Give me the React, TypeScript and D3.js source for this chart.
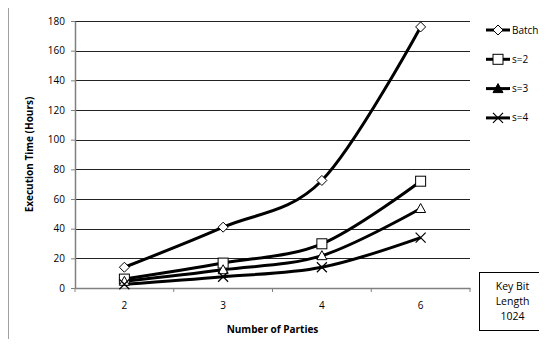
import { useEffect, useRef } from 'react';
import * as d3 from 'd3';

const parties = ['2', '3', '4', '6'];
const batch = [14, 41, 72.5, 176];
const s2 = [6, 16.8, 29.8, 72];
const s3 = [4.5, 12.3, 21.8, 53.6];
const s4 = [2.5, 7.6, 14, 34];
const yTicks = [0, 20, 40, 60, 80, 100, 120, 140, 160, 180];

const series = [
  { name: 'Batch', values: batch, marker: 'diamond' },
  { name: 's=2', values: s2, marker: 'square' },
  { name: 's=3', values: s3, marker: 'triangle' },
  { name: 's=4', values: s4, marker: 'cross' },
];

const FONT = '"Open Sans", "Liberation Sans", sans-serif';

const drawMarker = (g, type, x, y, legend) => {
  if (type === 'diamond') {
    g.append('path')
      .attr('d', `M${x},${y - 5}L${x + 5},${y}L${x},${y + 5}L${x - 5},${y}Z`)
      .attr('fill', '#fff').attr('stroke', '#000').attr('stroke-width', 1);
  } else if (type === 'square') {
    g.append('rect')
      .attr('x', x - 5).attr('y', y - 5).attr('width', 10).attr('height', 10)
      .attr('fill', '#fff').attr('stroke', '#000').attr('stroke-width', 1);
  } else if (type === 'triangle') {
    g.append('path')
      .attr('d', `M${x},${y - 5}L${x + 5},${y + 4}L${x - 5},${y + 4}Z`)
      .attr('fill', legend ? '#000' : '#fff').attr('stroke', '#000').attr('stroke-width', 1);
  } else {
    g.append('path')
      .attr('d', `M${x - 5},${y - 5}L${x + 5},${y + 5}M${x + 5},${y - 5}L${x - 5},${y + 5}`)
      .attr('stroke', '#000').attr('stroke-width', 1.2);
  }
};

const ExecChart = () => {
  const svgRef = useRef(null);

  useEffect(() => {
    const svg = d3.select(svgRef.current);
    svg.selectAll('*').remove();

    const left = 75, right = 470, top = 21, bottom = 288;

    const x = d3.scaleBand().domain(parties).range([left, right]);
    const y = d3.scaleLinear().domain([0, 180]).range([bottom, top]);

    // outer frame (cropped)
    svg.append('rect')
      .attr('x', 8.5).attr('y', 7.5).attr('width', 560).attr('height', 360)
      .attr('fill', '#fff').attr('stroke', '#a0a0a0').attr('stroke-width', 1);

    // gridlines
    svg.append('g')
      .selectAll('line')
      .data(yTicks.filter(t => t > 0))
      .enter().append('line')
      .attr('x1', left).attr('x2', right)
      .attr('y1', d => Math.round(y(d)) + 0.5).attr('y2', d => Math.round(y(d)) + 0.5)
      .attr('stroke', '#222').attr('stroke-width', 1);

    // y axis
    const yAxis = svg.append('g')
      .attr('transform', `translate(${left},0)`)
      .call(d3.axisLeft(y).tickValues(yTicks).tickSize(4).tickSizeOuter(0));
    yAxis.select('.domain').attr('stroke', '#808080').attr('stroke-width', 1.5);
    yAxis.selectAll('.tick line').attr('stroke', '#808080');
    yAxis.selectAll('.tick text')
      .attr('x', -10)
      .attr('font-family', FONT).attr('font-size', 10).attr('fill', '#000');

    // x axis
    const xAxis = svg.append('g')
      .attr('transform', `translate(0,${bottom})`)
      .call(d3.axisBottom(x).tickSize(0).tickSizeOuter(0));
    xAxis.select('.domain').attr('stroke', '#808080').attr('stroke-width', 1.5);
    xAxis.selectAll('.tick text')
      .attr('y', 14)
      .attr('font-family', FONT).attr('font-size', 10).attr('fill', '#000');
    const bounds = parties.map(p => x(p)).concat([right]);
    svg.append('g')
      .selectAll('line')
      .data(bounds)
      .enter().append('line')
      .attr('x1', d => d).attr('x2', d => d)
      .attr('y1', bottom).attr('y2', bottom + 4)
      .attr('stroke', '#808080');

    // axis titles
    svg.append('text')
      .attr('x', (left + right) / 2).attr('y', 333)
      .attr('text-anchor', 'middle')
      .attr('font-family', FONT).attr('font-size', 10).attr('font-weight', 'bold')
      .text('Number of Parties');
    svg.append('text')
      .attr('transform', `translate(33,${(top + bottom) / 2}) rotate(-90)`)
      .attr('text-anchor', 'middle')
      .attr('font-family', FONT).attr('font-size', 10).attr('font-weight', 'bold')
      .text('Execution Time (Hours)');

    const line = d3.line()
      .x((d, i) => x(parties[i]) + x.bandwidth() / 2)
      .y(d => y(d))
      .curve(d3.curveCardinal.tension(0));

    series.forEach(s => {
      svg.append('path')
        .datum(s.values)
        .attr('d', line)
        .attr('fill', 'none')
        .attr('stroke', '#000')
        .attr('stroke-width', 3);
    });
    series.forEach(s => {
      const g = svg.append('g');
      s.values.forEach((v, i) => {
        drawMarker(g, s.marker, x(parties[i]) + x.bandwidth() / 2, y(v), false);
      });
    });

    // legend
    series.forEach((s, i) => {
      const ly = 30 + i * 29.3;
      const g = svg.append('g');
      g.append('line')
        .attr('x1', 486).attr('x2', 510).attr('y1', ly).attr('y2', ly)
        .attr('stroke', '#000').attr('stroke-width', 3);
      drawMarker(g, s.marker, 498, ly, true);
      g.append('text')
        .attr('x', 512).attr('y', ly + 3.5)
        .attr('font-family', FONT).attr('font-size', 10)
        .text(s.name);
    });

    // key box
    svg.append('rect')
      .attr('x', 479.5).attr('y', 272.5).attr('width', 66).attr('height', 58)
      .attr('fill', '#fff').attr('stroke', '#000').attr('stroke-width', 1);
    ['Key Bit', 'Length', '1024'].forEach((t, i) => {
      svg.append('text')
        .attr('x', 512.5).attr('y', 290 + i * 15)
        .attr('text-anchor', 'middle')
        .attr('font-family', FONT).attr('font-size', 10.5)
        .text(t);
    });
  }, []);

  return <svg ref={svgRef} width={547} height={347} style={{ display: 'block' }}></svg>;
};

export default function App() {
  return (
    <div style={{ margin: -8 }}>
      <ExecChart />
    </div>
  );
}
